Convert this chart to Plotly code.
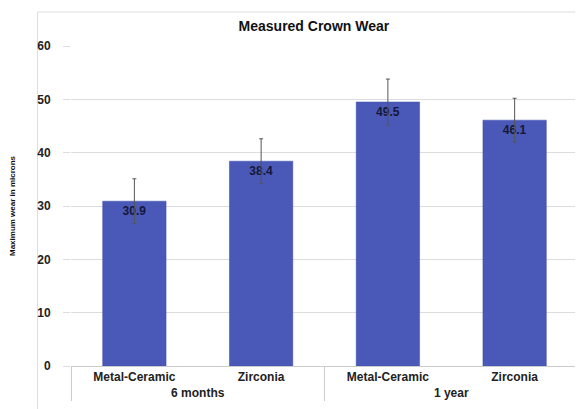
import plotly.graph_objects as go

periods = ["6 months", "6 months", "1 year", "1 year"]
materials = ["Metal-Ceramic", "Zirconia", "Metal-Ceramic", "Zirconia"]
wear = [30.9, 38.4, 49.5, 46.1]
errors = [4.2, 4.2, 4.3, 4.1]
labels = ["30.9", "38.4", "49.5", "46.1"]

fig = go.Figure()
fig.add_trace(go.Bar(
    x=[periods, materials],
    y=wear,
    width=0.5,
    marker=dict(color="#4a59b8", line=dict(color="#3f4da8", width=0.5)),
    error_y=dict(type="data", array=errors, color="#555555", thickness=1, width=2),
    text=labels,
    textposition="inside",
    insidetextanchor="end",
    textfont=dict(family="Liberation Sans, Arial, sans-serif", size=12, color="#15173a", weight="bold"),
    cliponaxis=False,
))

fig.update_layout(
    width=575, height=401,
    margin=dict(l=62.5, r=5, t=38, b=43),
    paper_bgcolor="white", plot_bgcolor="white",
    showlegend=False,
    font=dict(family="Liberation Sans, Arial, sans-serif", color="#111111"),
    title=dict(text="<b>Measured Crown Wear</b>", x=0.532, xanchor="center", y=1 - 18 / 401, yanchor="middle",
               font=dict(size=14, color="#111111")),
    yaxis=dict(range=[0, 60], dtick=10, gridcolor="#dddddd", gridwidth=1, zeroline=False,
               automargin=False, ticks="outside", ticklen=7, tickcolor="#dddddd",
               tickfont=dict(size=12, color="#222222", weight="bold"), ticklabelstandoff=10,
               title=dict(text="<b>Maximum wear in microns</b>", font=dict(size=8, color="#111111"), standoff=24)),
    xaxis=dict(showline=True, linecolor="#cccccc", showdividers=True, dividercolor="#cccccc", dividerwidth=1,
               automargin=False,
               tickfont=dict(size=12, color="#222222", weight="bold")),
)

fig.add_shape(type="rect", xref="paper", yref="paper",
              x0=(29 - 62.5) / 507.5, x1=1.05, y0=-0.2, y1=(358 - 4) / 320,
              line=dict(color="#dddddd", width=1), fillcolor="rgba(0,0,0,0)", layer="below")

fig.write_html("out.html")
